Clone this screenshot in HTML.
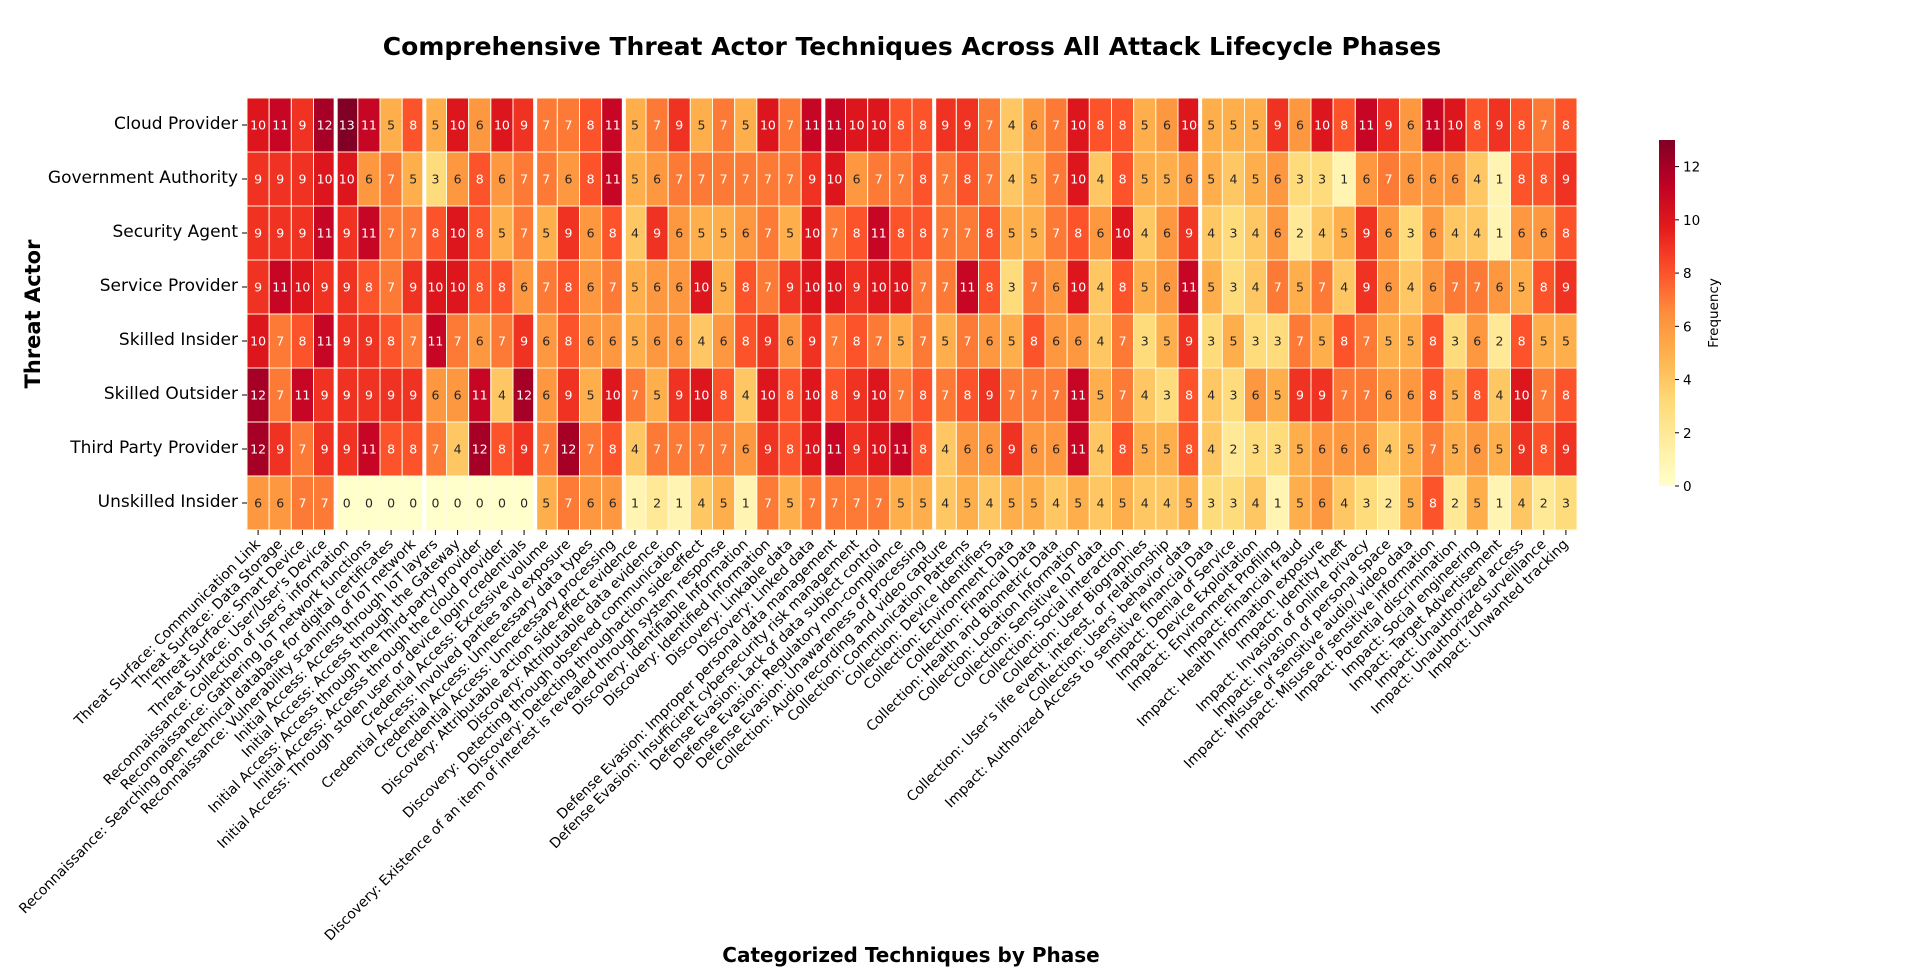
<!DOCTYPE html>
<html><head><meta charset="utf-8">
<style>
html,body{margin:0;padding:0;background:#fff;}
svg{display:block;font-family:"DejaVu Sans","Liberation Sans",sans-serif;}
</style></head>
<body>
<svg id="chart" width="1920" height="967" viewBox="0 0 1920 967" xmlns="http://www.w3.org/2000/svg">
<text x="912" y="55" text-anchor="middle" font-size="25" font-weight="bold" fill="#000">Comprehensive Threat Actor Techniques Across All Attack Lifecycle Phases</text>
<text transform="translate(40,314) rotate(-90)" text-anchor="middle" font-size="21" font-weight="bold" fill="#000">Threat Actor</text>
<text x="911" y="962" text-anchor="middle" font-size="20" font-weight="bold" fill="#000">Categorized Techniques by Phase</text>
<g id="cells"></g>
<g id="seps"></g>
<g id="ylabels"></g>
<g id="xlabels"></g>
<g id="cbar"></g>
</svg>
<script>
const actors = ["Cloud Provider","Government Authority","Security Agent","Service Provider","Skilled Insider","Skilled Outsider","Third Party Provider","Unskilled Insider"];
const techniques = [
"Threat Surface: Communication Link","Threat Surface: Data Storage","Threat Surface: Smart Device","Threat Surface: User/User's Device",
"Reconnaissance: Collection of users' information","Reconnaissance: Gathering IoT network functions","Reconnaissance: Searching open technical database for digital certificates","Reconnaissance: Vulnerability scanning of IoT network",
"Initial Access: Access through IoT layers","Initial Access: Access through the Gateway","Initial Access: Access through the Third-party provider","Initial Access: Accesss through the cloud provider","Initial Access: Through stolen user or device login credentials",
"Credential Access: Excessive volume","Credential Access: Involved parties and exposure","Credential Access: Unnecessary data types","Credential Access: Unnecessary processing",
"Discovery: Attributable action side-effect evidence","Discovery: Attributable data evidence","Discovery: Detecting through observed communication","Discovery: Detecting throughaction side-effect","Discovery: Existence of an item of interest is revealed through system response","Discovery: Identifiable Information","Discovery: Identified Information","Discovery: Linkable data","Discovery: Linked data",
"Defense Evasion: Improper personal data management","Defense Evasion: Insufficient cybersecurity risk management","Defense Evasion: Lack of data subject control","Defense Evasion: Regulatory non-compliance","Defense Evasion: Unawareness of processing",
"Collection: Audio recording and video capture","Collection: Communication Patterns","Collection: Device Identifiers","Collection: Environment Data","Collection: Financial Data","Collection: Health and Biometric Data","Collection: Location Information","Collection: Sensitive IoT data","Collection: Social interaction","Collection: User Biographies","Collection: User's life event, interest, or relationship","Collection: Users' behavior data",
"Impact: Authorized Access to sensitive financial Data","Impact: Denial of Service","Impact: Device Exploitation","Impact: Environment Profiling","Impact: Financial fraud","Impact: Health Information exposure","Impact: Identity theft","Impact: Invasion of online privacy","Impact: Invasion of personal space","Impact: Misuse of sensitive audio/ video data","Impact: Misuse of sensitive information","Impact: Potential discrimination","Impact: Social engineering","Impact: Target Advertisement","Impact: Unauthorized access","Impact: Unauthorized surveillance","Impact: Unwanted tracking"];
const phaseSizes = [4,4,5,4,9,5,12,17];
const rowCloudProvider = [10,11,9,12,13,11,5,8,5,10,6,10,9,7,7,8,11,5,7,9,5,7,5,10,7,11,11,10,10,8,8,9,9,7,4,6,7,10,8,8,5,6,10,5,5,5,9,6,10,8,11,9,6,11,10,8,9,8,7,8];
const rowGovernment = [9,9,9,10,10,6,7,5,3,6,8,6,7,7,6,8,11,5,6,7,7,7,7,7,7,9,10,6,7,7,8,7,8,7,4,5,7,10,4,8,5,5,6,5,4,5,6,3,3,1,6,7,6,6,6,4,1,8,8,9];
const rowSecurityAgent = [9,9,9,11,9,11,7,7,8,10,8,5,7,5,9,6,8,4,9,6,5,5,6,7,5,10,7,8,11,8,8,7,7,8,5,5,7,8,6,10,4,6,9,4,3,4,6,2,4,5,9,6,3,6,4,4,1,6,6,8];
const rowServiceProvider = [9,11,10,9,9,8,7,9,10,10,8,8,6,7,8,6,7,5,6,6,10,5,8,7,9,10,10,9,10,10,7,7,11,8,3,7,6,10,4,8,5,6,11,5,3,4,7,5,7,4,9,6,4,6,7,7,6,5,8,9];
const rowSkilledInsider = [10,7,8,11,9,9,8,7,11,7,6,7,9,6,8,6,6,5,6,6,4,6,8,9,6,9,7,8,7,5,7,5,7,6,5,8,6,6,4,7,3,5,9,3,5,3,3,7,5,8,7,5,5,8,3,6,2,8,5,5];
const rowSkilledOutsider = [12,7,11,9,9,9,9,9,6,6,11,4,12,6,9,5,10,7,5,9,10,8,4,10,8,10,8,9,10,7,8,7,8,9,7,7,7,11,5,7,4,3,8,4,3,6,5,9,9,7,7,6,6,8,5,8,4,10,7,8];
const rowThirdParty = [12,9,7,9,9,11,8,8,7,4,12,8,9,7,12,7,8,4,7,7,7,7,6,9,8,10,11,9,10,11,8,4,6,6,9,6,6,11,4,8,5,5,8,4,2,3,3,5,6,6,6,4,5,7,5,6,5,9,8,9];
const rowUnskilledInsider = [6,6,7,7,0,0,0,0,0,0,0,0,0,5,7,6,6,1,2,1,4,5,1,7,5,7,7,7,7,5,5,4,5,4,5,5,4,5,4,5,4,4,5,3,3,4,1,5,6,4,3,2,5,8,2,5,1,4,2,3];
const values = [rowCloudProvider,rowGovernment,rowSecurityAgent,rowServiceProvider,rowSkilledInsider,rowSkilledOutsider,rowThirdParty,rowUnskilledInsider];
const colorTicks = [0,2,4,6,8,10,12];
const vMax = 13;

const NS = "http://www.w3.org/2000/svg";
const X0 = 247, X1 = 1577, Y0 = 98, Y1 = 530;
const cw = (X1 - X0) / techniques.length, ch = (Y1 - Y0) / actors.length;
const xPos = i => X0 + i * cw;
const yPos = j => Y0 + j * ch;
const stops = ["#ffffcc","#ffeda0","#fed976","#feb24c","#fd8d3c","#fc4e2a","#e31a1c","#bd0026","#800026"];
function hex(h){return [parseInt(h.substr(1,2),16),parseInt(h.substr(3,2),16),parseInt(h.substr(5,2),16)];}
function color(v){
  let t = Math.max(0, Math.min(1, v / vMax)) * (stops.length - 1);
  let i = Math.min(Math.floor(t), stops.length - 2), f = t - i;
  const a = hex(stops[i]), b = hex(stops[i+1]);
  return "rgb(" + a.map((c,k)=>Math.round(c + (b[k]-c)*f)).join(",") + ")";
}
function mk(tag, attrs, parent){
  const e = document.createElementNS(NS, tag);
  for (const k in attrs) e.setAttribute(k, attrs[k]);
  parent.appendChild(e);
  return e;
}
const gCells = document.getElementById("cells");
values.forEach((row, j) => {
  row.forEach((v, i) => {
    const r = mk("rect", {x: xPos(i), y: yPos(j), width: cw, height: ch, fill: color(v), stroke: "#fffbe0", "stroke-width": 1}, gCells);
    
    
    const t = mk("text", {x: xPos(i) + cw/2, y: yPos(j) + ch/2 + 4.5, "text-anchor": "middle", "font-size": 12.5, fill: v >= 7 ? "#fff" : "#262626"}, gCells);
    t.textContent = v;
    
    
  });
});
const gSeps = document.getElementById("seps");
let acc = 0;
phaseSizes.slice(0, -1).forEach(n => {
  acc += n;
  const l = mk("line", {x1: xPos(acc), x2: xPos(acc), y1: Y0, y2: Y1, stroke: "#fff", "stroke-width": 4}, gSeps);
  
  
});
const gY = document.getElementById("ylabels");
actors.forEach((a, j) => {
  mk("line", {x1: X0 - 5, x2: X0, y1: yPos(j) + ch/2, y2: yPos(j) + ch/2, stroke: "#000", "stroke-width": 1}, gY);
  const t = mk("text", {x: X0 - 9, y: yPos(j) + ch/2 + 4, "text-anchor": "end", "font-size": 17, fill: "#000"}, gY);
  t.textContent = a;
  
  
});
const gX = document.getElementById("xlabels");
techniques.forEach((lab, i) => {
  const cx = xPos(i) + cw/2;
  mk("line", {x1: cx, x2: cx, y1: Y1, y2: Y1 + 5, stroke: "#000", "stroke-width": 1}, gX);
  const ax = cx + 3, ay = Y1 + 15;
  const t = mk("text", {x: ax, y: ay, "text-anchor": "end", "font-size": 14, fill: "#000", transform: "rotate(-45 " + ax + " " + ay + ")"}, gX);
  t.textContent = lab;
  
  
});
const gC = document.getElementById("cbar");
const CX = 1659, CW = 16, CT = 140, CB = 486;
const cy = v => CB - (v / vMax) * (CB - CT);
const defs = mk("defs", {}, gC);
const grad = mk("linearGradient", {id: "cg", x1: 0, y1: 1, x2: 0, y2: 0}, defs);
for (let k = 0; k <= 20; k++) mk("stop", {offset: k/20, "stop-color": color(vMax * k / 20)}, grad);
const cr = mk("rect", {x: CX, y: CT, width: CW, height: CB - CT, fill: "url(#cg)"}, gC);


colorTicks.forEach(v => {
  mk("line", {x1: CX + CW, x2: CX + CW + 4, y1: cy(v), y2: cy(v), stroke: "#000", "stroke-width": 1}, gC);
  const t = mk("text", {x: CX + CW + 8, y: cy(v) + 5, "font-size": 13.5, fill: "#000"}, gC);
  t.textContent = v;
  
  
});
const ct = mk("text", {transform: "translate(1718,313) rotate(-90)", "text-anchor": "middle", "font-size": 13.5, fill: "#000"}, gC);
ct.textContent = "Frequency";


</script>
</body></html>
